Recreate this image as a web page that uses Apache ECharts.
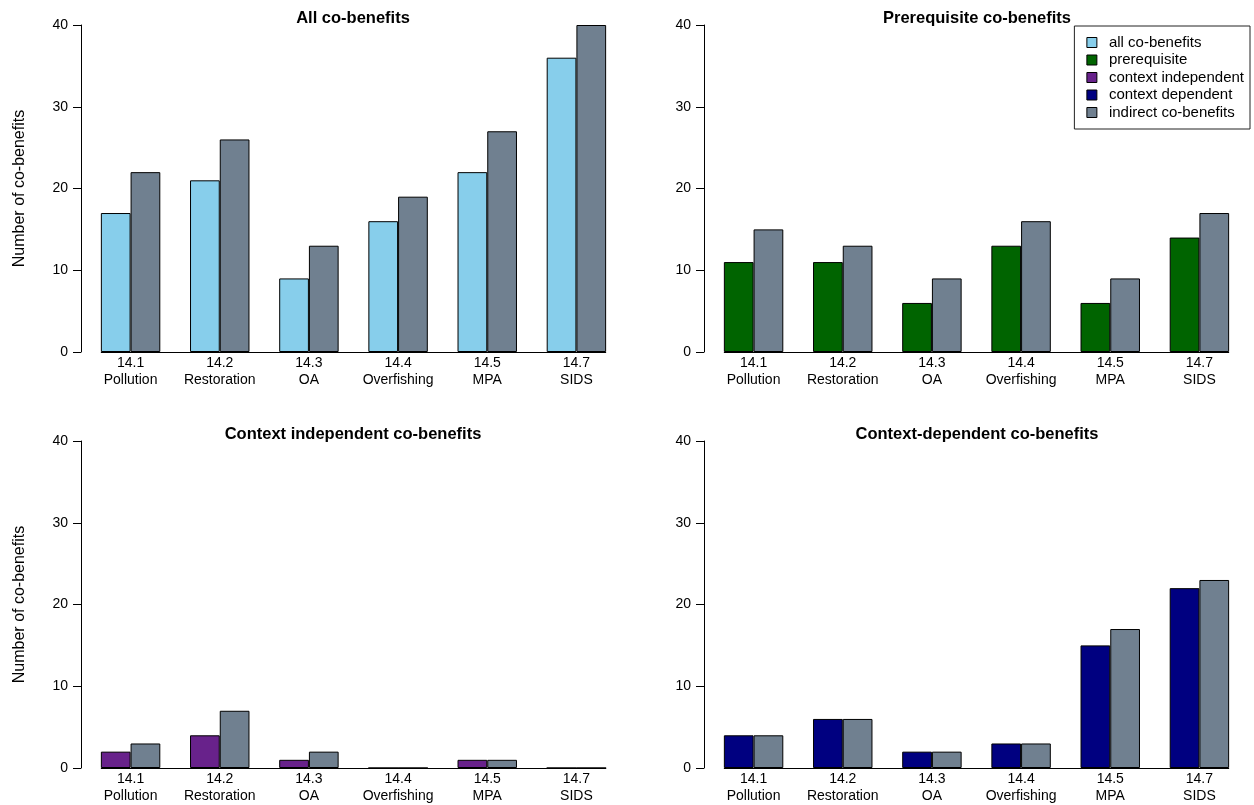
<!DOCTYPE html>
<html>
<head>
<meta charset="utf-8">
<script src="https://cdn.jsdelivr.net/npm/echarts@6/dist/echarts.min.js"></script>
<style>html,body{margin:0;padding:0;background:#fff}#c{width:1254px;height:805px}</style>
</head>
<body>
<div id="c"></div>
<script>
const categories = ['14.1\nPollution','14.2\nRestoration','14.3\nOA','14.4\nOverfishing','14.5\nMPA','14.7\nSIDS'];
const yTicks = [0, 10, 20, 30, 40];

const allCoBenefits = [17, 21, 9, 16, 22, 36];
const allIndirect = [22, 26, 13, 19, 27, 40];

const prerequisite = [11, 11, 6, 13, 6, 14];
const prerequisiteIndirect = [15, 13, 9, 16, 9, 17];

const contextIndependent = [2, 4, 1, 0, 1, 0];
const contextIndependentIndirect = [3, 7, 2, 0, 1, 0];

const contextDependent = [4, 6, 2, 3, 15, 22];
const contextDependentIndirect = [4, 6, 2, 3, 17, 23];

const panelTitles = ['All co-benefits','Prerequisite co-benefits','Context independent co-benefits','Context-dependent co-benefits'];
const legendNames = ['all co-benefits','prerequisite','context independent','context dependent','indirect co-benefits'];

const colors = {
  'all co-benefits': '#87CEEB',
  'prerequisite': '#006400',
  'context independent': '#68228B',
  'context dependent': '#000080',
  'indirect co-benefits': '#708090'
};

const panels = [
  {main: 'all co-benefits', a: allCoBenefits, b: allIndirect},
  {main: 'prerequisite', a: prerequisite, b: prerequisiteIndirect},
  {main: 'context independent', a: contextIndependent, b: contextIndependentIndirect},
  {main: 'context dependent', a: contextDependent, b: contextDependentIndirect}
];

const FONT = 'Liberation Sans, Arial, Helvetica, sans-serif';
const gridPos = [
  {left: 86, top: 25, width: 535, height: 327},
  {left: 709, top: 25, width: 535, height: 327},
  {left: 86, top: 441, width: 535, height: 327},
  {left: 709, top: 441, width: 535, height: 327}
];
const titleCenters = [[353, 10], [977, 10], [353, 426], [977, 426]];

const chart = echarts.init(document.getElementById('c'), null, {renderer: 'canvas'});

const grids = gridPos.map(g => ({left: g.left, top: g.top, width: g.width, height: g.height, containLabel: false}));
const xAxes = gridPos.map((g, i) => ({
  type: 'category', gridIndex: i, data: categories,
  axisLine: {show: false}, axisTick: {show: false},
  axisLabel: {color: '#000', fontSize: 14, fontFamily: FONT, lineHeight: 17, margin: 3, interval: 0}
}));
const yAxes = gridPos.map((g, i) => ({
  type: 'value', gridIndex: i, min: yTicks[0], max: yTicks[yTicks.length - 1], interval: 10,
  offset: 5,
  name: (i % 2 === 0) ? 'Number of co-benefits' : '',
  nameLocation: 'middle', nameGap: 53,
  nameTextStyle: {color: '#000', fontSize: 16, fontFamily: FONT},
  axisLine: {show: true, lineStyle: {color: '#000', width: 1}},
  axisTick: {show: true, length: 8, lineStyle: {color: '#000', width: 1}},
  axisLabel: {color: '#000', fontSize: 14, fontFamily: FONT, margin: 13},
  splitLine: {show: false}
}));

const series = [];
panels.forEach((p, i) => {
  series.push({
    name: p.main, type: 'bar', xAxisIndex: i, yAxisIndex: i, data: p.a,
    barGap: '0%', barCategoryGap: '33.333%',
    itemStyle: {color: colors[p.main], borderColor: '#000', borderWidth: 1},
    emphasis: {disabled: true}, animation: false
  });
  series.push({
    name: 'indirect co-benefits', type: 'bar', xAxisIndex: i, yAxisIndex: i, data: p.b,
    barGap: '0%', barCategoryGap: '33.333%',
    itemStyle: {color: colors['indirect co-benefits'], borderColor: '#000', borderWidth: 1},
    emphasis: {disabled: true}, animation: false
  });
});

const titles = panelTitles.map((t, i) => ({
  text: t, left: titleCenters[i][0], top: titleCenters[i][1], textAlign: 'center', padding: 0, z: 1,
  textStyle: {fontSize: 16.5, fontWeight: 'bold', color: '#000', fontFamily: FONT}
}));

chart.setOption({
  animation: false,
  title: titles,
  grid: grids,
  xAxis: xAxes,
  yAxis: yAxes,
  series: series,
  legend: {
    data: legendNames.map(n => ({name: n, itemStyle: {color: colors[n], borderColor: '#000', borderWidth: 1}})),
    orient: 'vertical', right: 4, top: 26, z: 10,
    backgroundColor: '#fff', borderColor: '#222', borderWidth: 1,
    padding: [9, 6, 9, 12],
    itemWidth: 10, itemHeight: 10, itemGap: 2.5, icon: 'rect',
    selectedMode: false,
    textStyle: {color: '#000', fontSize: 15, fontFamily: FONT, lineHeight: 15, padding: [0, 0, 0, 7]}
  }
});

function layoutExtras() {
  const graphics = [];
  for (let i = 0; i < 4; i++) {
    const p0 = chart.convertToPixel({xAxisIndex: i, yAxisIndex: i}, [0, 0]);
    const p5 = chart.convertToPixel({xAxisIndex: i, yAxisIndex: i}, [5, 0]);
    const band = (p5[0] - p0[0]) / 5;
    const x1 = p0[0] - band / 3, x2 = p5[0] + band / 3;
    graphics.push({type: 'line', z: 5, shape: {x1: x1, y1: Math.round(p0[1]) + 0.5, x2: x2, y2: Math.round(p0[1]) + 0.5},
      style: {stroke: '#000', lineWidth: 1}});
  }
  chart.setOption({graphic: graphics});
}
layoutExtras();
</script>
</body>
</html>
